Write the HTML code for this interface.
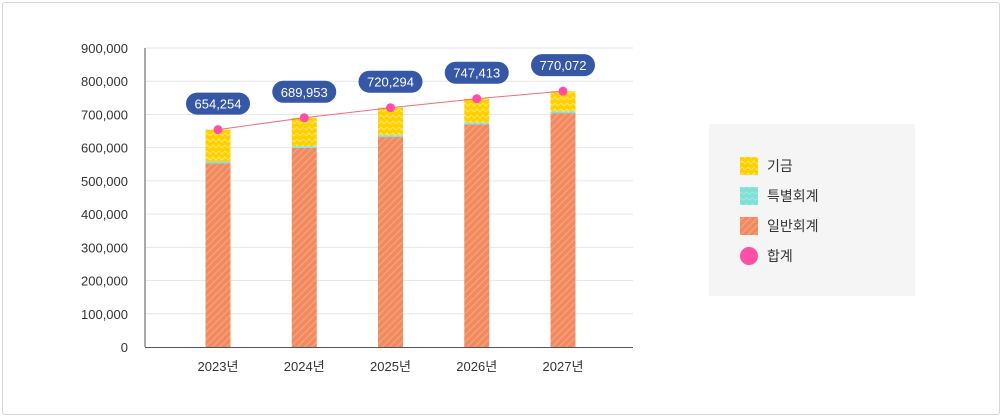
<!DOCTYPE html>
<html><head><meta charset="utf-8">
<style>
body{margin:0;background:#fff;font-family:"Liberation Sans","Noto Sans CJK KR",sans-serif;}
#wrap{position:relative;width:1004px;height:419px;}
#frame{position:absolute;left:2px;top:2px;width:998px;height:413px;border:1px solid #d6d6d6;border-radius:3px;box-sizing:border-box;}
</style></head><body>
<div id="wrap">
<div id="frame"></div>
<svg id="chart" width="1004" height="419" style="position:absolute;left:0;top:0">
<defs>
<pattern id="pFund" width="6" height="6" patternUnits="userSpaceOnUse"><rect width="6" height="6" fill="#ffd000"/><path d="M0 4 L3 1 L6 4" stroke="#ffe766" stroke-width="1" fill="none"/></pattern>
<pattern id="pSpec" width="6" height="6" patternUnits="userSpaceOnUse"><rect width="6" height="6" fill="#7fe0d6"/><path d="M0 3 Q1.5 1 3 3 T6 3" stroke="#a6ebe3" fill="none"/></pattern>
<pattern id="pGen" width="5" height="5" patternUnits="userSpaceOnUse" patternTransform="rotate(45)"><rect width="5" height="5" fill="#f28a5f"/><rect width="1.2" height="5" fill="#f5a481"/></pattern>
</defs>
</svg>
<div style="position:absolute;left:709px;top:124px;width:206px;height:172px;background:#f5f5f5;">
<svg width="206" height="172" style="position:absolute;left:0;top:0">
<rect x="31" y="33" width="18" height="18" fill="url(#pFund)"/>
<text x="58" y="47" font-size="14" fill="#333">기금</text>
<rect x="31" y="63" width="18" height="18" fill="url(#pSpec)"/>
<text x="58" y="77" font-size="14" fill="#333">특별회계</text>
<rect x="31" y="93" width="18" height="18" fill="url(#pGen)"/>
<text x="58" y="107" font-size="14" fill="#333">일반회계</text>
<circle cx="40" cy="132" r="9" fill="#ff4fa6"/>
<text x="58" y="137" font-size="14" fill="#333">합계</text>
</svg></div>
</div>
<script>
const categories=["2023년","2024년","2025년","2026년","2027년"];
const general=[553000,599000,632000,670000,704000];
const special=[6000,6000,6000,6000,6000];
const totals=[654254,689953,720294,747413,770072];
const totalLabels=["654,254","689,953","720,294","747,413","770,072"];
const yTicks=[0,100000,200000,300000,400000,500000,600000,700000,800000,900000];
const yTickLabels=["0","100,000","200,000","300,000","400,000","500,000","600,000","700,000","800,000","900,000"];

const NS="http://www.w3.org/2000/svg";
const svg=document.getElementById("chart");
const x0=145,x1=633,yBase=347,yTop=48,yMax=900000;
const y=v=>yBase-(v/yMax)*(yBase-yTop);
const xc=i=>218+i*86.25;
const bw=25;
function mk(tag,attrs){const e=document.createElementNS(NS,tag);for(const k in attrs)e.setAttribute(k,attrs[k]);svg.appendChild(e);return e;}
yTicks.forEach((t,i)=>{
  if(t>0){const g=mk("line",{x1:x0,x2:x1,y1:y(t),y2:y(t),stroke:"#e6e6e6"});
  
  }
  const l=mk("text",{x:128,y:y(t)+5,"text-anchor":"end","font-size":"13",fill:"#333"});
  l.textContent=yTickLabels[i];
  
  
});
const ya=mk("line",{x1:x0,x2:x0,y1:yTop,y2:yBase,stroke:"#555"});


const xa=mk("line",{x1:x0,x2:x1,y1:yBase+0.5,y2:yBase+0.5,stroke:"#555"});


categories.forEach((c,i)=>{
  const cx=xc(i);
  const fund=totals[i]-general[i]-special[i];
  const g=mk("rect",{x:cx-bw/2,y:y(general[i]),width:bw,height:yBase-y(general[i]),fill:"url(#pGen)"});
  
  
  const s=mk("rect",{x:cx-bw/2,y:y(general[i]+special[i]),width:bw,height:y(general[i])-y(general[i]+special[i]),fill:"url(#pSpec)"});
  
  
  const f=mk("rect",{x:cx-bw/2,y:y(totals[i]),width:bw,height:y(general[i]+special[i])-y(totals[i]),fill:"url(#pFund)"});
  
  
  const t=mk("text",{x:cx,y:yBase+24,"text-anchor":"middle","font-size":"13",fill:"#333"});
  t.textContent=c;
  
  
});
const pts=totals.map((v,i)=>xc(i)+","+y(v)).join(" ");
const line=mk("polyline",{points:pts,fill:"none",stroke:"#ef6f7a","stroke-width":"1"});


totals.forEach((v,i)=>{
  const cx=xc(i),cy=y(v);
  const p=mk("circle",{cx:cx,cy:cy,r:4.5,fill:"#ff4fa6"});
  
  
  const b=mk("rect",{x:cx-32,y:cy-37,width:64,height:22,rx:11,fill:"#3557a5"});
  
  
  const t=mk("text",{x:cx,y:cy-21,"text-anchor":"middle","font-size":"13",fill:"#fff"});
  t.textContent=totalLabels[i];
  
  
});
</script>
</body></html>
